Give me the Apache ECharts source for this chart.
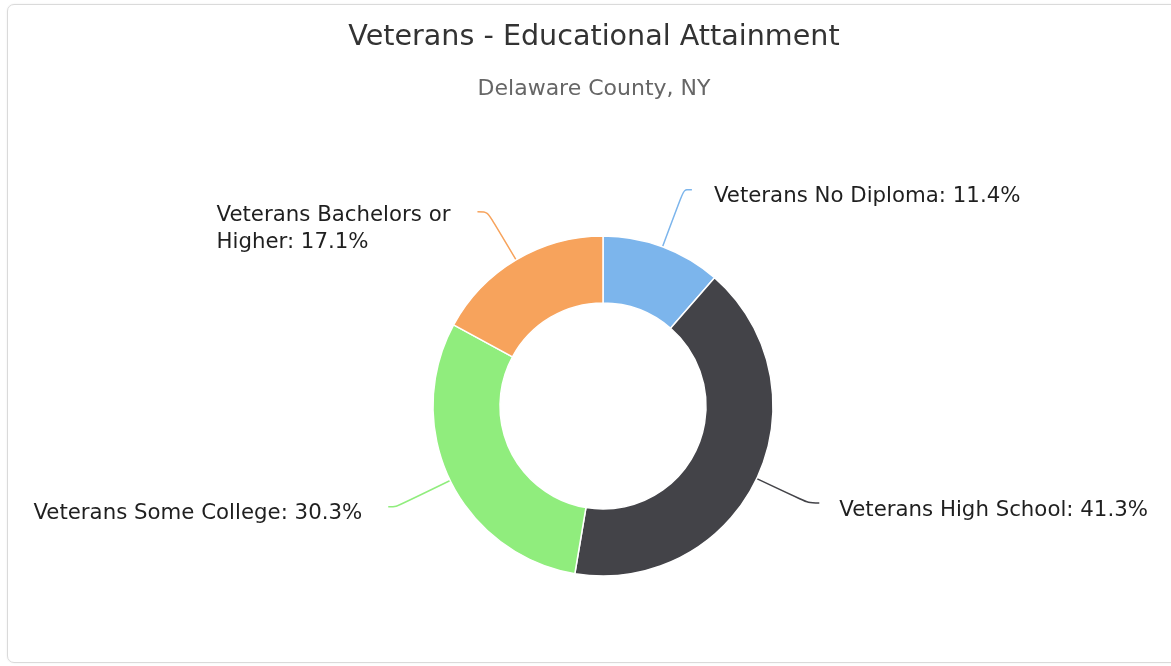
<!DOCTYPE html>
<html>
<head>
<meta charset="utf-8">
<script src="https://cdn.jsdelivr.net/npm/echarts@6/dist/echarts.min.js"></script>
<style>
  html, body { margin: 0; padding: 0; background: #fff; overflow: hidden; width: 1171px; height: 666px; }
  #frame { position: absolute; left: 7px; top: 4px; width: 1190px; height: 657px; border: 1px solid #dadada; border-radius: 7px; box-shadow: 0 0 2px rgba(0,0,0,0.08); }
  #chart { position: absolute; left: 8px; top: 0; width: 1172px; height: 666px; }
</style>
</head>
<body>
<div id="frame"></div>
<div id="chart"></div>
<script>
const titleText = 'Veterans - Educational Attainment';
const subtitleText = 'Delaware County, NY';
const categories = ['Veterans No Diploma', 'Veterans High School', 'Veterans Some College', 'Veterans Bachelors or Higher'];
const values = [11.4, 41.3, 30.3, 17.1];
const colors = ['#7cb5ec', '#434348', '#90ed7d', '#f7a35c'];
// connector styling per slice (first segment, second segment, gap to text, text drop)
const connectorLength = [61, 57, 60, 56];
const connectorLength2 = [8, 11, 8, 10];
const connectorGap = [22, 20, 26, 27];
const labelDrop = [14, 16, 14, 34];

const FONT = 'DejaVu Sans';
const LABEL_SIZE = 21.3;

function wrapLabel(text, maxChars) {
  if (text.length <= 30) return text;
  const cut = text.lastIndexOf(' ', maxChars);
  return cut > 0 ? text.slice(0, cut) + '\n' + text.slice(cut + 1) : text;
}

const pieData = categories.map((name, i) => ({
  name: name,
  value: values[i],
  itemStyle: { color: colors[i] },
  label: { distanceToLabelLine: connectorGap[i], padding: [labelDrop[i], 0, 0, 0] },
  labelLine: { length: connectorLength[i], length2: connectorLength2[i] }
}));

const chart = echarts.init(document.getElementById('chart'), null, { renderer: 'canvas' });
chart.setOption({
  animation: false,
  backgroundColor: 'transparent',
  title: [
    {
      text: titleText,
      left: 'center',
      top: 23,
      padding: 0,
      textStyle: { fontFamily: FONT, fontSize: 28.6, fontWeight: 'normal', color: '#333333' }
    },
    {
      text: subtitleText,
      left: 'center',
      top: 78,
      padding: 0,
      textStyle: { fontFamily: FONT, fontSize: 22, fontWeight: 'normal', color: '#666666' }
    }
  ],
  series: [{
    type: 'pie',
    center: [595, 406],
    radius: [103, 170],
    startAngle: 90,
    clockwise: true,
    avoidLabelOverlap: false,
    itemStyle: { borderColor: '#ffffff', borderWidth: 1.5 },
    label: {
      show: true,
      position: 'outside',
      fontFamily: FONT,
      fontSize: LABEL_SIZE,
      color: '#1f1f1f',
      formatter: function (p) {
        return '{t|' + wrapLabel(p.name + ': ' + p.value + '%', 22) + '}';
      },
      rich: {
        t: { fontFamily: FONT, fontSize: LABEL_SIZE, color: '#1f1f1f', lineHeight: 27, align: 'left' }
      }
    },
    labelLine: {
      show: true,
      smooth: 0.3,
      lineStyle: { width: 1.5 }
    },
    emphasis: { disabled: true },
    data: pieData
  }]
});
</script>
</body>
</html>
